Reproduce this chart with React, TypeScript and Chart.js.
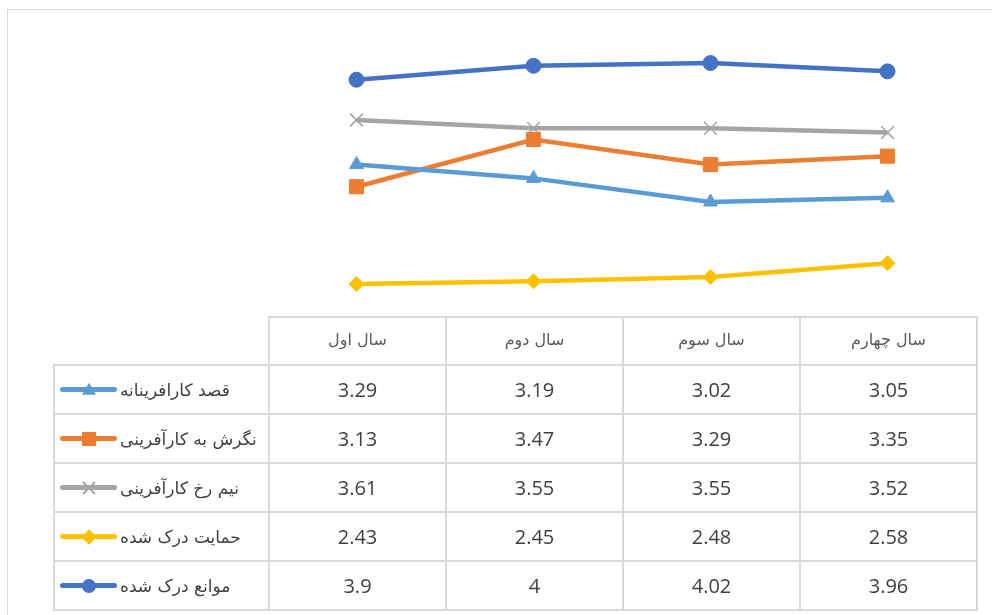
import React, { useEffect, useRef } from "react";
import { Chart, registerables } from "chart.js";
Chart.register(...registerables);

const categories = ["سال اول", "سال دوم", "سال سوم", "سال چهارم"];
const seriesNames = [
  "قصد کارافرینانه",
  "نگرش به کارآفرینی",
  "نیم رخ کارآفرینی",
  "حمایت درک شده",
  "موانع درک شده",
];
const intentValues = [3.29, 3.19, 3.02, 3.05];
const attitudeValues = [3.13, 3.47, 3.29, 3.35];
const profileValues = [3.61, 3.55, 3.55, 3.52];
const supportValues = [2.43, 2.45, 2.48, 2.58];
const barrierValues = [3.9, 4, 4.02, 3.96];
const seriesValues = [intentValues, attitudeValues, profileValues, supportValues, barrierValues];

const colors = ["#5B9BD5", "#ED7D31", "#A5A5A5", "#FFC000", "#4472C4"];
const pointStyles = ["triangle", "rect", "crossRot", "rectRot", "circle"];
const pointRadii = [8, 10, 9, 7.5, 7.5];

const W = 992;
const H = 615;
const PLOT_LEFT = 268;
const PLOT_RIGHT = 976;
const PLOT_TOP = 38;
const PLOT_BOTTOM = 316;
const LEG_LEFT = 53;
const HEADER_H = 48;
const ROW_H = 49;
const BORDER = "2px solid #d9d9d9";

function Marker({ i }: { i: number }) {
  const c = colors[i];
  const base: React.CSSProperties = { position: "absolute", left: "50%", top: "50%" };
  if (i === 0)
    return (
      <div
        style={{
          ...base,
          width: 0,
          height: 0,
          borderLeft: "7px solid transparent",
          borderRight: "7px solid transparent",
          borderBottom: `12px solid ${c}`,
          transform: "translate(-50%,-60%)",
        }}
      />
    );
  if (i === 1)
    return <div style={{ ...base, width: 14, height: 14, background: c, transform: "translate(-50%,-50%)" }} />;
  if (i === 2)
    return (
      <>
        <div style={{ ...base, width: 17, height: 2, background: c, transform: "translate(-50%,-50%) rotate(45deg)" }} />
        <div style={{ ...base, width: 17, height: 2, background: c, transform: "translate(-50%,-50%) rotate(-45deg)" }} />
      </>
    );
  if (i === 3)
    return <div style={{ ...base, width: 11, height: 11, background: c, transform: "translate(-50%,-50%) rotate(45deg)" }} />;
  return (
    <div style={{ ...base, width: 14, height: 14, borderRadius: "50%", background: c, transform: "translate(-50%,-50%)" }} />
  );
}

export default function App() {
  const ref = useRef<HTMLCanvasElement | null>(null);

  useEffect(() => {
    if (!ref.current) return;
    const chart = new Chart(ref.current, {
      type: "line",
      data: {
        labels: categories,
        datasets: seriesNames.map((name, i) => ({
          label: name,
          data: seriesValues[i],
          borderColor: colors[i],
          backgroundColor: colors[i],
          borderWidth: 4.5,
          pointStyle: pointStyles[i] as any,
          pointRadius: pointRadii[i],
          pointBackgroundColor: colors[i],
          pointBorderColor: colors[i],
          pointBorderWidth: i === 2 ? 1.5 : 1,
          tension: 0,
          fill: false,
        })),
      },
      options: {
        animation: false,
        responsive: false,
        devicePixelRatio: 1,
        layout: {
          padding: { left: PLOT_LEFT, right: W - PLOT_RIGHT, top: PLOT_TOP, bottom: H - PLOT_BOTTOM },
        },
        plugins: { legend: { display: false }, tooltip: { enabled: false } },
        scales: {
          x: { display: false, offset: true },
          y: { display: false, min: 2.2, max: 4.2 },
        },
      },
    });
    return () => chart.destroy();
  }, []);

  const colW = (PLOT_RIGHT - PLOT_LEFT) / categories.length;
  const numFont = '"Open Sans", "DejaVu Sans", sans-serif';
  const faFont = '"DejaVu Sans", sans-serif';

  return (
    <div style={{ position: "fixed", left: 0, top: 0, width: W, height: H, background: "#fff", overflow: "hidden" }}>
      <div
        style={{
          position: "absolute",
          left: 7,
          top: 9,
          width: W + 20,
          height: H + 20,
          border: "1.5px solid #d9d9d9",
          boxSizing: "border-box",
        }}
      />
      <canvas ref={ref} width={W} height={H} style={{ position: "absolute", left: 0, top: 0, width: W, height: H }} />
      <table
        style={{
          position: "absolute",
          left: LEG_LEFT,
          top: PLOT_BOTTOM,
          borderCollapse: "collapse",
          tableLayout: "fixed",
          width: PLOT_RIGHT - LEG_LEFT,
        }}
      >
        <colgroup>
          <col style={{ width: PLOT_LEFT - LEG_LEFT }} />
          {categories.map((c) => (
            <col key={c} style={{ width: colW }} />
          ))}
        </colgroup>
        <tbody>
          <tr style={{ height: HEADER_H }}>
            <td style={{ borderTop: "none", borderLeft: "none", borderRight: BORDER, borderBottom: BORDER, padding: 0 }} />
            {categories.map((c) => (
              <td
                key={c}
                dir="rtl"
                style={{
                  border: BORDER,
                  textAlign: "center",
                  fontFamily: faFont,
                  fontSize: 16,
                  color: "#595959",
                  padding: "0 0 3px 0",
                }}
              >
                {c}
              </td>
            ))}
          </tr>
          {seriesNames.map((name, i) => (
            <tr key={name} style={{ height: ROW_H }}>
              <td style={{ border: BORDER, padding: 0 }}>
                <div style={{ display: "flex", alignItems: "center", paddingLeft: 5 }}>
                  <div style={{ position: "relative", width: 57, height: 16, flex: "none" }}>
                    <div
                      style={{
                        position: "absolute",
                        left: 0,
                        right: 0,
                        top: "50%",
                        height: 5,
                        marginTop: -2.5,
                        borderRadius: 3,
                        background: colors[i],
                      }}
                    />
                    <Marker i={i} />
                  </div>
                  <span
                    dir="rtl"
                    style={{ fontFamily: faFont, fontSize: 17, color: "#404040", marginLeft: 3, whiteSpace: "nowrap" }}
                  >
                    {name}
                  </span>
                </div>
              </td>
              {seriesValues[i].map((v, j) => (
                <td
                  key={j}
                  style={{
                    border: BORDER,
                    textAlign: "center",
                    fontFamily: numFont,
                    fontSize: 20,
                    color: "#404040",
                    padding: 0,
                  }}
                >
                  {String(v)}
                </td>
              ))}
            </tr>
          ))}
        </tbody>
      </table>
    </div>
  );
}
